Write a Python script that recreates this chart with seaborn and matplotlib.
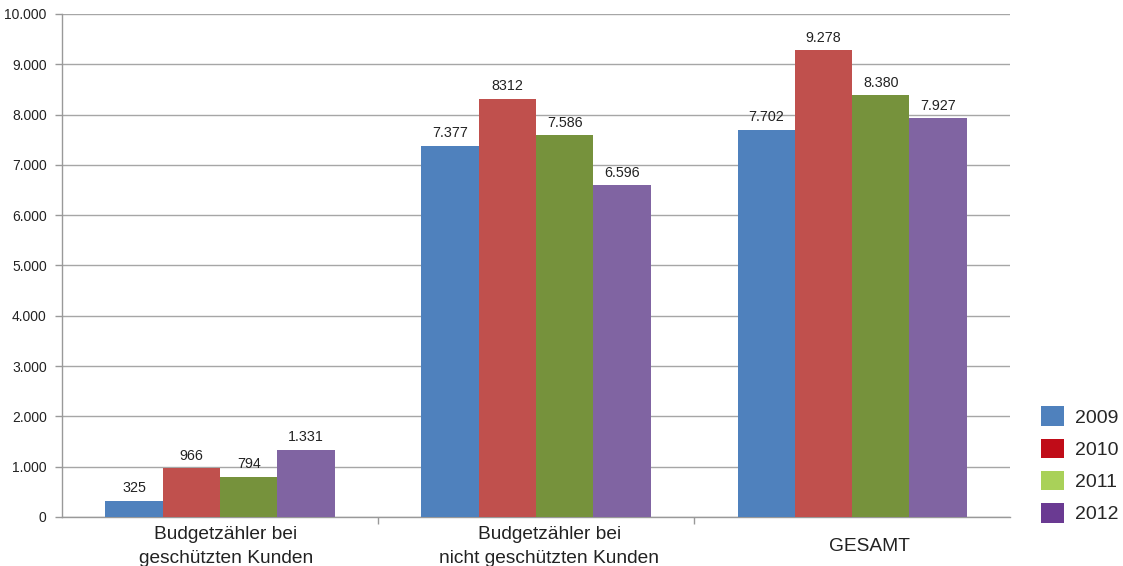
import matplotlib
matplotlib.use("Agg")
import matplotlib.pyplot as plt
import matplotlib.transforms as mtransforms
from matplotlib.patches import Patch
import seaborn as sns
import pandas as pd

categories = ["Budgetzähler bei\ngeschützten Kunden",
              "Budgetzähler bei\nnicht geschützten Kunden",
              "GESAMT"]
years = ["2009", "2010", "2011", "2012"]
values = {
    "2009": [325, 7377, 7702],
    "2010": [966, 8312, 9278],
    "2011": [794, 7586, 8380],
    "2012": [1331, 6596, 7927],
}
value_labels = {
    "2009": ["325", "7.377", "7.702"],
    "2010": ["966", "8312", "9.278"],
    "2011": ["794", "7.586", "8.380"],
    "2012": ["1.331", "6.596", "7.927"],
}
y_ticks = [0, 1000, 2000, 3000, 4000, 5000, 6000, 7000, 8000, 9000, 10000]
y_tick_labels = ["0", "1.000", "2.000", "3.000", "4.000", "5.000",
                 "6.000", "7.000", "8.000", "9.000", "10.000"]

bar_colors = ["#4F81BD", "#C0504D", "#76923C", "#8064A2"]
legend_colors = ["#4F81BD", "#C00C18", "#A9D159", "#6A3A92"]

rows = []
for y in years:
    for c, v in zip(categories, values[y]):
        rows.append({"Kategorie": c, "Jahr": y, "Anzahl": v})
df = pd.DataFrame(rows)

sns.set_style("white")
plt.rcParams["font.family"] = ["Liberation Sans", "DejaVu Sans"]

fig = plt.figure(figsize=(11.23, 5.66), dpi=100)
ax = fig.add_axes([0.0552, 0.0866, 0.8443, 0.8887])

sns.barplot(data=df, x="Kategorie", y="Anzahl", hue="Jahr",
            order=categories, hue_order=years, palette=bar_colors,
            width=0.725, linewidth=0, saturation=1, errorbar=None,
            legend=False, ax=ax, zorder=3)

for cont, y in zip(ax.containers, years):
    ax.bar_label(cont, labels=value_labels[y], padding=4, fontsize=10.3,
                 color="#222222")

ax.set_xlim(-0.5, 2.5)
ax.set_ylim(0, 10000)
ax.set_yticks(y_ticks)
ax.set_yticklabels(y_tick_labels, fontsize=10, color="#222222")
ax.yaxis.grid(True, color="#A6A6A6", linewidth=1, zorder=0)
ax.set_axisbelow(True)
ax.set_xlabel("")
ax.set_ylabel("")
ax.tick_params(axis="x", labelsize=13.8, colors="#222222", length=0, pad=21)

# category labels: vertically centred block, nudged slightly right
x_shift_px = [6, 13, 17]
for lbl, dx in zip(ax.get_xticklabels(), x_shift_px):
    lbl.set_verticalalignment("center")
    lbl.set_linespacing(1.55)
    lbl.set_transform(lbl.get_transform() +
                      mtransforms.ScaledTranslation(dx / 100, 0,
                                                    fig.dpi_scale_trans))

ax.tick_params(axis="y", left=True, length=5, color="#999999", width=1, pad=6)
ax.set_xticks([0.5, 1.5], minor=True)
ax.tick_params(axis="x", which="minor", bottom=True, length=5,
               color="#999999", width=1)
for s in ["top", "right"]:
    ax.spines[s].set_visible(False)
for s in ["left", "bottom"]:
    ax.spines[s].set_color("#999999")
    ax.spines[s].set_linewidth(1)

handles = [Patch(facecolor=c, edgecolor="none") for c in legend_colors]
fig.legend(handles, years, loc="lower left", bbox_to_anchor=(0.9185, 0.058),
           frameon=False, fontsize=14, handlelength=1.15, handleheight=1.15,
           handletextpad=0.6, labelspacing=0.62, borderpad=0)

fig.savefig("out.png", dpi=100)
